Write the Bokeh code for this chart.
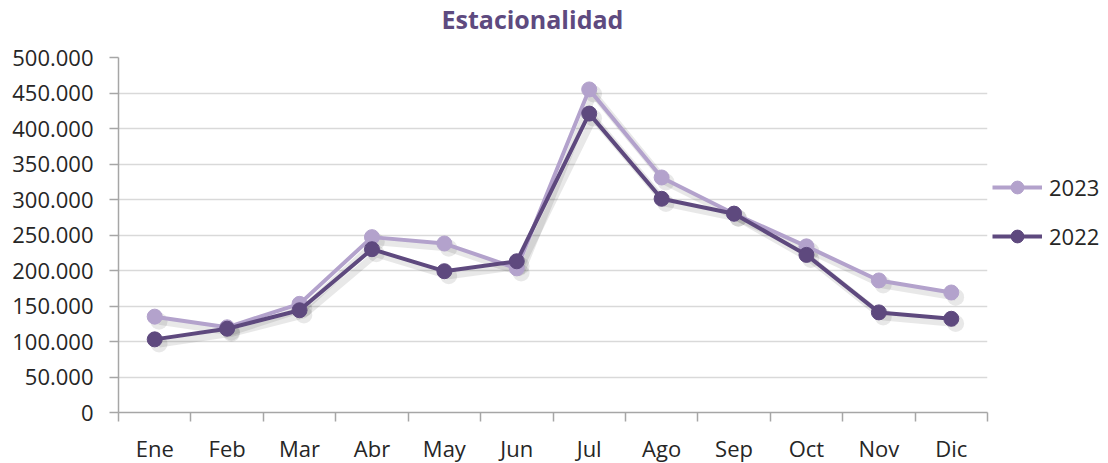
from bokeh.plotting import figure
from bokeh.models import (Range1d, FixedTicker, Legend, LegendItem, ColumnDataSource, Title)
from bokeh.transform import dodge
from bokeh.embed import file_html
from bokeh.resources import INLINE

months = ["Ene", "Feb", "Mar", "Abr", "May", "Jun", "Jul", "Ago", "Sep", "Oct", "Nov", "Dic"]
v2023 = [135000, 120000, 153000, 247000, 238000, 203000, 455000, 331000, 280000, 234000, 186000, 169000]
v2022 = [103000, 118000, 144000, 230000, 199000, 213000, 421000, 301000, 280000, 222000, 141000, 132000]
yticks = list(range(0, 500001, 50000))

LIGHT = "#b3a2cc"
DARK = "#5e497e"
FONT = "Open Sans"

xpos = [i + 0.5 for i in range(len(months))]
src = ColumnDataSource(dict(x=xpos, m=months, a=v2023, b=v2022))

p = figure(title=None, frame_width=869, frame_height=355, output_backend="svg", toolbar_location=None,
           x_range=Range1d(0, len(months)), y_range=Range1d(0, 500000),
           min_border_left=118, min_border_right=0, min_border_top=57, min_border_bottom=50)
p.outline_line_color = None
p.background_fill_color = "white"
p.border_fill_color = "white"

# spacer between title and frame (closest to the frame)
spacer = Title(text=" ", text_font_size="1px", standoff=17, vertical_align="top")
p.add_layout(spacer, "above")

title = Title(text="Estacionalidad", align="left", offset=323, vertical_align="top", standoff=0,
              text_font=FONT, text_font_style="bold", text_font_size="25px", text_color="#5e4a7f")
p.add_layout(title, "above")

# axes
xa = p.xaxis[0]
xa.ticker = FixedTicker(ticks=xpos, minor_ticks=list(range(len(months) + 1)))
xa.major_label_overrides = {x: m for x, m in zip(xpos, months)}
xa.major_tick_out = 0
xa.major_tick_in = 0
xa.minor_tick_out = 9
xa.minor_tick_in = 0
xa.minor_tick_line_color = "#a6a6a6"
xa.minor_tick_line_width = 1.5
xa.axis_line_color = "#a6a6a6"
xa.axis_line_width = 1.5
xa.major_label_standoff = 11
xa.major_label_text_font = FONT
xa.major_label_text_font_size = "22px"
xa.major_label_text_color = "#262626"

ya = p.yaxis[0]
ya.ticker = FixedTicker(ticks=yticks)
ya.major_label_overrides = {v: ("0" if v == 0 else f"{v:,}".replace(",", ".")) for v in yticks}
ya.major_tick_out = 9
ya.major_tick_in = 0
ya.minor_tick_out = 0
ya.minor_tick_in = 0
ya.major_tick_line_color = "#a6a6a6"
ya.major_tick_line_width = 1.5
ya.axis_line_color = "#a6a6a6"
ya.axis_line_width = 1.5
ya.major_label_standoff = 16
ya.major_label_text_font = FONT
ya.major_label_text_font_size = "22px"
ya.major_label_text_color = "#262626"

p.xgrid.visible = False
p.ygrid.ticker = FixedTicker(ticks=yticks)
p.ygrid.grid_line_color = "#d9d9d9"
p.ygrid.grid_line_width = 1.5

# shadows
for col in ["a", "b"]:
    p.line(x=dodge("x", 0.06, range=p.x_range), y=dodge(col, -6500, range=p.y_range), source=src,
           line_color="#000000", line_alpha=0.09, line_width=7)
    p.scatter(x=dodge("x", 0.06, range=p.x_range), y=dodge(col, -6500, range=p.y_range), source=src,
              size=17, fill_color="#000000", fill_alpha=0.09, line_color=None)

l23 = p.line("x", "a", source=src, line_color=LIGHT, line_width=4)
c23 = p.scatter("x", "a", source=src, size=15, fill_color=LIGHT, line_color=LIGHT)
l22 = p.line("x", "b", source=src, line_color=DARK, line_width=4)
c22 = p.scatter("x", "b", source=src, size=15, fill_color=DARK, line_color=DARK)

legend = Legend(items=[LegendItem(label="2023", renderers=[l23, c23]),
                       LegendItem(label="2022", renderers=[l22, c22])],
                location=(5, 160), padding=0, margin=0, spacing=17,
                glyph_width=50, glyph_height=32, label_height=20, label_standoff=7,
                label_text_font=FONT, label_text_font_size="22px", label_text_color="#262626",
                border_line_alpha=0, background_fill_alpha=0)
p.add_layout(legend, "right")

open("out.html", "w").write(file_html(p, INLINE))
